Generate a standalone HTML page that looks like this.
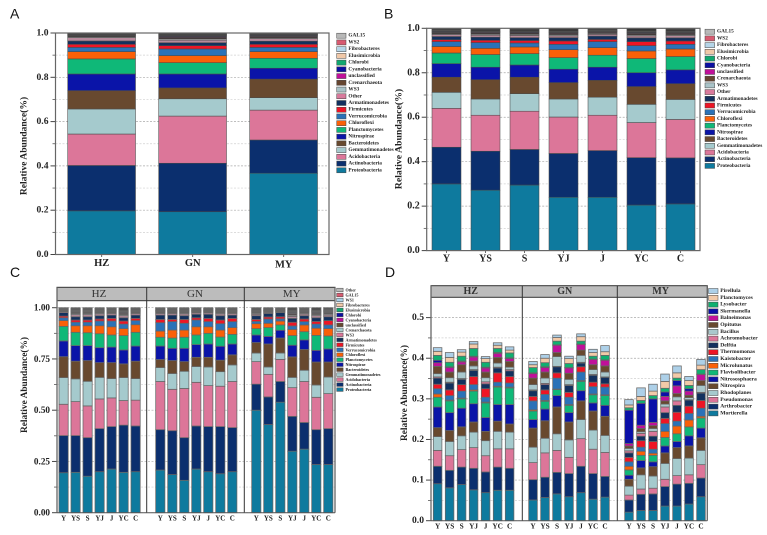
<!DOCTYPE html>
<html lang="en">
<head>
<meta charset="utf-8">
<title>Relative abundance stacked bars</title>
<style>
html,body{margin:0;padding:0;background:#fff;width:767px;height:535px;overflow:hidden}
svg{display:block;font-family:"Liberation Serif",serif}
</style>
</head>
<body>
<svg id="figure" xmlns="http://www.w3.org/2000/svg" width="767" height="535" viewBox="0 0 767 535"></svg>
<script>
// Cumulative abundance at the top of each stacked taxon, bottom to top.
const phylaLegendAB = ["Proteobacteria","Actinobacteria","Acidobacteria","Gemmatimonadetes","Bacteroidetes","Nitrospirae","Planctomycetes","Chloroflexi","Verrucomicrobia","Firmicutes","Armatimonadetes","Other","WS3","Crenarchaeota","unclassified","Cyanobacteria","Chlorobi","Elusimicrobia","Fibrobacteres","WS2","GAL15"];
const phylaLegendC = ["Proteobacteria","Actinobacteria","Acidobacteria","Gemmatimonadetes","Bacteroidetes","Nitrospirae","Planctomycetes","Chloroflexi","Verrucomicrobia","Firmicutes","Armatimonadetes","WS3","Crenarchaeota","unclassified","Cyanobacteria","Chlorobi","Elusimicrobia","Fibrobacteres","WS1","GAL15","Other"];
const generaLegend = ["Mortierella","Arthrobacter","Pseudomonas","Rhodoplanes","Nitrospira","Nitrososphaera","Flavisolibacter","Microlunatus","Kaistobacter","Thermomonas","Delftia","Achromobacter","Bacillus","Opitutus","Balneimonas","Skermanella","Lysobacter","Planctomyces","Pirellula"];

const aCategories = ["HZ","GN","MY"];
const aHZ = [.197,.402,.544,.657,.74,.815,.883,.916,.935,.949,.964,.979,.983,.987,.989,.991,.993,.995,.997,.999,1];
const aGN = [.193,.412,.625,.703,.752,.815,.866,.898,.928,.943,.956,.968,.974,.98,.984,.987,.99,.992,.995,.998,1];
const aMY = [.367,.517,.652,.708,.792,.841,.886,.916,.935,.949,.963,.975,.979,.984,.987,.99,.992,.994,.996,.998,1];

const sampleLabels = ["Y","YS","S","YJ","J","YC","C"];
const bY  = [.30,.465,.64,.712,.78,.841,.889,.918,.94,.949,.963,.972,.976,.98,.983,.986,.988,.991,.994,.997,1];
const bYS = [.272,.447,.609,.682,.769,.825,.882,.91,.936,.946,.96,.969,.974,.979,.982,.985,.987,.99,.994,.997,1];
const bS  = [.295,.455,.627,.706,.78,.835,.886,.916,.934,.945,.958,.968,.973,.978,.981,.984,.987,.99,.994,.997,1];
const bYJ = [.24,.437,.601,.682,.756,.816,.868,.904,.928,.943,.958,.966,.972,.977,.98,.983,.986,.989,.993,.997,1];
const bJ  = [.24,.45,.609,.69,.766,.825,.879,.913,.94,.95,.965,.973,.977,.981,.984,.986,.988,.991,.994,.997,1];
const bYC = [.205,.418,.576,.658,.738,.80,.864,.898,.922,.94,.957,.966,.971,.976,.979,.982,.985,.988,.992,.996,1];
const bC  = [.21,.417,.59,.68,.751,.813,.873,.907,.928,.943,.957,.967,.972,.977,.98,.983,.986,.989,.993,.996,1];

const cHzY  = [.195,.376,.529,.659,.761,.838,.909,.937,.951,.959,.976,.981,.984,.987,.989,.991,.993,.995,.997,.999,1];
const cHzYS = [.197,.376,.542,.653,.739,.815,.88,.912,.929,.94,.956,.966,.972,.977,.98,.983,.986,.989,.993,.997,1];
const cHzS  = [.178,.366,.521,.641,.742,.815,.878,.912,.929,.94,.956,.966,.972,.977,.98,.983,.986,.989,.993,.997,1];
const cHzYJ = [.20,.41,.555,.66,.732,.805,.873,.912,.935,.945,.961,.97,.975,.979,.982,.985,.987,.99,.994,.997,1];
const cHzJ  = [.213,.42,.56,.654,.732,.808,.867,.907,.935,.948,.964,.972,.976,.98,.983,.985,.987,.99,.994,.997,1];
const cHzYC = [.197,.427,.547,.659,.726,.794,.864,.898,.92,.935,.951,.961,.967,.972,.976,.98,.983,.986,.99,.995,1];
const cHzC  = [.20,.423,.549,.654,.739,.813,.88,.917,.937,.948,.964,.972,.976,.98,.983,.985,.987,.99,.994,.997,1];
const cGnY  = [.208,.405,.64,.708,.747,.813,.856,.886,.927,.943,.964,.972,.976,.98,.983,.985,.987,.99,.994,.997,1];
const cGnYS = [.186,.40,.602,.679,.742,.802,.852,.891,.932,.943,.964,.972,.976,.98,.983,.985,.987,.99,.994,.997,1];
const cGnS  = [.158,.366,.606,.69,.737,.802,.856,.891,.924,.943,.961,.97,.975,.979,.982,.985,.987,.99,.994,.997,1];
const cGnYJ = [.213,.423,.636,.713,.758,.82,.867,.907,.94,.951,.968,.975,.979,.982,.984,.986,.988,.991,.994,.997,1];
const cGnJ  = [.20,.42,.62,.711,.758,.823,.875,.907,.932,.948,.968,.975,.979,.982,.984,.986,.988,.991,.994,.997,1];
const cGnYC = [.19,.42,.617,.688,.744,.812,.857,.891,.922,.94,.961,.97,.975,.979,.982,.985,.987,.99,.994,.997,1];
const cGnC  = [.20,.415,.64,.721,.77,.823,.87,.903,.932,.948,.964,.972,.976,.98,.983,.985,.987,.99,.994,.997,1];
const cMyY  = [.50,.627,.737,.779,.83,.867,.898,.922,.933,.943,.961,.968,.973,.977,.98,.983,.986,.989,.993,.997,1];
const cMyYS = [.43,.565,.675,.711,.823,.86,.903,.924,.945,.955,.972,.977,.98,.983,.985,.987,.989,.992,.995,.998,1];
const cMyS  = [.539,.64,.748,.779,.852,.89,.916,.935,.946,.956,.976,.98,.983,.985,.987,.989,.991,.993,.995,.998,1];
const cMyYJ = [.30,.47,.61,.66,.76,.817,.864,.894,.911,.929,.948,.958,.964,.97,.974,.978,.982,.986,.99,.995,1];
const cMyJ  = [.31,.44,.64,.695,.796,.843,.883,.916,.932,.945,.961,.969,.974,.978,.981,.984,.987,.99,.994,.997,1];
const cMyYC = [.235,.405,.563,.623,.735,.792,.865,.90,.92,.933,.951,.961,.967,.972,.976,.98,.983,.986,.99,.995,1];
const cMyC  = [.235,.41,.581,.662,.735,.799,.862,.898,.916,.937,.956,.964,.97,.975,.979,.982,.985,.988,.992,.996,1];

const dHzY  = [.091,.134,.173,.207,.229,.28,.304,.312,.325,.336,.351,.354,.362,.38,.389,.395,.407,.417,.426];
const dHzYS = [.081,.124,.16,.195,.222,.266,.295,.297,.308,.322,.339,.341,.352,.366,.377,.379,.39,.402,.414];
const dHzS  = [.089,.132,.175,.209,.231,.277,.30,.302,.319,.335,.348,.35,.366,.384,.391,.393,.405,.415,.421];
const dHzYJ = [.076,.129,.18,.218,.243,.288,.319,.322,.335,.355,.37,.372,.381,.393,.403,.405,.424,.435,.441];
const dHzJ  = [.069,.12,.16,.197,.22,.254,.29,.292,.304,.325,.337,.342,.352,.366,.376,.378,.39,.399,.404];
const dHzYC = [.075,.132,.177,.22,.245,.286,.329,.331,.341,.364,.376,.378,.388,.402,.412,.414,.424,.432,.438];
const dHzC  = [.075,.129,.177,.218,.238,.286,.327,.329,.339,.355,.369,.372,.378,.392,.399,.401,.413,.42,.428];
const dGnY  = [.051,.101,.143,.181,.228,.249,.27,.273,.295,.306,.32,.322,.335,.351,.362,.364,.377,.384,.392];
const dGnYS = [.057,.107,.167,.203,.246,.275,.294,.296,.311,.322,.335,.338,.351,.366,.377,.379,.389,.40,.409];
const dGnS  = [.066,.119,.173,.214,.28,.308,.323,.324,.351,.364,.379,.38,.404,.414,.432,.433,.442,.451,.457];
const dGnYJ = [.059,.116,.156,.199,.243,.266,.284,.286,.304,.316,.333,.335,.348,.363,.376,.377,.387,.399,.405];
const dGnJ  = [.069,.134,.202,.249,.295,.32,.343,.345,.366,.379,.388,.39,.407,.42,.434,.435,.442,.453,.46];
const dGnYC = [.053,.116,.176,.223,.27,.29,.31,.312,.33,.341,.358,.36,.372,.384,.397,.398,.405,.414,.422];
const dGnC  = [.058,.109,.168,.21,.257,.284,.308,.31,.329,.337,.353,.354,.366,.381,.395,.396,.407,.416,.431];
const dMyY  = [.021,.051,.063,.085,.102,.112,.125,.134,.145,.156,.167,.172,.178,.184,.19,.272,.278,.285,.298];
const dMyYS = [.025,.065,.078,.113,.13,.148,.161,.171,.181,.197,.208,.215,.219,.227,.235,.289,.296,.306,.327];
const dMyS  = [.025,.066,.08,.11,.133,.145,.161,.166,.176,.195,.208,.22,.227,.234,.242,.30,.308,.319,.336];
const dMyYJ = [.036,.084,.102,.141,.167,.184,.205,.22,.239,.252,.266,.28,.287,.295,.306,.317,.326,.343,.361];
const dMyJ  = [.036,.09,.111,.153,.18,.195,.214,.233,.245,.267,.284,.295,.305,.313,.332,.345,.351,.364,.381];
const dMyYC = [.041,.092,.113,.154,.184,.209,.231,.248,.264,.282,.297,.298,.303,.309,.319,.325,.333,.345,.355];
const dMyC  = [.059,.105,.138,.173,.204,.228,.253,.257,.277,.296,.314,.316,.333,.345,.36,.361,.372,.383,.397];

const phylumColors = ["#0e7a9e","#0b2f6e","#dc7699","#a5cacd","#68492f","#0a14a8","#0fb878","#fa6008","#2a72b8","#ee1525","#12305e","#d87a9c","#a9c3c8","#654530","#c0109a","#0b0fa0","#10a870","#f0c8a8","#b5d5e8","#d85a70","#b8b8b8"];
const phylumBarColors = ["#0e7a9e","#0b2f6e","#dc7699","#a5cacd","#68492f","#0a14a8","#0fb878","#fa6008","#2a72b8","#ee1525","#12305e","#b88a9c","#a0a0a0","#3a2a2a","#6a2a5a","#101050","#222222","#999999","#0a0a0a","#0a0a0a","#1a1a1a"];
const legendCColors = ["#0e7a9e","#0b2f6e","#dc7699","#a5cacd","#68492f","#0a14a8","#0fb878","#fa6008","#2a72b8","#ee1525","#12305e","#dc7699","#a5cacd","#68492f","#c0109a","#0b0fa0","#10a870","#f0c8a8","#a8cfe6","#d85a70","#b8b8b8"];
const genusColors = ["#0e7a9e","#0b2f6e","#dc7699","#a5cacd","#68492f","#0a14a8","#0fb878","#fa6008","#2a72b8","#ee1525","#12305e","#dc7699","#a9c8cc","#68492f","#c0109a","#0a0fa8","#0fb070","#f2caa8","#add0e8"];

const svg = document.getElementById('figure');
const NS = 'http://www.w3.org/2000/svg';

function make(tag, attrs, parent, text) {
  const el = document.createElementNS(NS, tag);
  for (const k in attrs) el.setAttribute(k, attrs[k]);
  if (text !== undefined) el.textContent = text;
  (parent || svg).appendChild(el);
  return el;
}
function line(x1, y1, x2, y2, stroke, w, dash, parent) {
  const attrs = {x1, y1, x2, y2, stroke, 'stroke-width': w};
  if (dash) attrs['stroke-dasharray'] = dash;
  return make('line', attrs, parent);
}
function group(name) {
  const g = make('g', {});
  
  
  return g;
}
function label(parent, name, x, y, str, size, opts) {
  const o = opts || {};
  const t = make('text', {x, y, 'font-size': size, 'font-weight': o.weight || 'bold', fill: o.fill || '#222', 'text-anchor': o.anchor || 'middle', 'dominant-baseline': 'central'}, parent, str);
  if (o.rotate) t.setAttribute('transform', 'rotate(-90 ' + x + ' ' + y + ')');
  if (o.family) t.setAttribute('font-family', o.family);
  
  
  return t;
}

function drawStack(parent, name, cum, colors, x, w, yOf, stroke, strokeW) {
  const g = make('g', {}, parent);
  
  
  let prev = 0;
  cum.forEach(function (v, i) {
    const top = yOf(v), base = yOf(prev);
    const r = make('rect', {x, y: Math.min(top, base), width: w, height: Math.abs(base - top), fill: colors[i], stroke, 'stroke-width': strokeW}, g);
    
    
    prev = v;
  });
}

function drawLegend(name, labels, colors, cfg) {
  const g = group(name);
  labels.slice().reverse().forEach(function (txt, i) {
    const col = colors[labels.length - 1 - i];
    const y = cfg.first + i * cfg.step;
    const s = make('rect', {x: cfg.x, y: y - cfg.h / 2, width: cfg.w, height: cfg.h, fill: col, stroke: '#444', 'stroke-width': 0.5}, g);
    
    
    label(g, 'legend-entry', cfg.x + cfg.w + cfg.gap, y, txt, cfg.font, {anchor: 'start', fill: '#222'});
  });
}

function drawAxisLeft(g, cfg) {
  cfg.gridMinor.forEach(function (v) {
    line(cfg.x0, cfg.y(v), cfg.x1, cfg.y(v), '#d0d0d0', 0.7, '2 1.5', g);
    line(cfg.x0 - 3, cfg.y(v), cfg.x0, cfg.y(v), '#555', 0.8, null, g);
  });
  cfg.ticks.forEach(function (v, i) {
    line(cfg.x0, cfg.y(v), cfg.x1, cfg.y(v), '#a8a8a8', 0.7, '2 1.5', g);
    line(cfg.x0 - 5, cfg.y(v), cfg.x0, cfg.y(v), '#444', 1, null, g);
    label(g, 'y-tick-label', cfg.x0 - 7, cfg.y(v), cfg.tickLabels[i], cfg.tickFont, {anchor: 'end'});
  });
}

/* Panel A */
const aTicks = [0, .2, .4, .6, .8, 1];
const aTickLabels = ["0.0","0.2","0.4","0.6","0.8","1.0"];
const abMinorTicks = [.1,.3,.5,.7,.9];
(function () {
  const g = group('panel-a');
  const y = function (v) { return 254.5 - 221.5 * v; };
  label(g, 'panel-a-letter', 10, 13.5, 'A', 14, {anchor: 'start', weight: 'normal', family: '"Liberation Sans",sans-serif', fill: '#111'});
  label(g, 'y-axis-title', 24, 146, 'Relative Abundance(%)', 9.6, {rotate: true});
  drawAxisLeft(g, {x0: 55.5, x1: 329, y, ticks: aTicks, tickLabels: aTickLabels, gridMinor: abMinorTicks, tickFont: 9.6});
  [aHZ, aGN, aMY].forEach(function (cum, i) {
    const x = 67.7 + i * 91;
    drawStack(g, 'bar-' + aCategories[i].toLowerCase(), cum, phylumBarColors, x, 67.8, y, '#4a4a4a', 0.55);
    line(x + 34, 254.5, x + 34, 257, '#444', 0.8, null, g);
    label(g, 'x-tick-label', x + 34, i === 2 ? 265 : 263.5, aCategories[i], 10.5);
  });
  make('rect', {x: 55.5, y: 33, width: 273.5, height: 221.5, fill: 'none', stroke: '#666', 'stroke-width': 1.2}, g);
})();
drawLegend('legend-a', phylaLegendAB, phylumColors, {x: 336.7, w: 9.3, h: 5, first: 35.7, step: 6.73, gap: 2.4, font: 5.3});

/* Panel B */
(function () {
  const g = group('panel-b');
  const y = function (v) { return 250.6 - 222.3 * v; };
  label(g, 'panel-b-letter', 384, 13.5, 'B', 14, {anchor: 'start', weight: 'normal', family: '"Liberation Sans",sans-serif', fill: '#111'});
  label(g, 'y-axis-title', 399, 139, 'Relative Abundance(%)', 9.8, {rotate: true});
  drawAxisLeft(g, {x0: 426.7, x1: 700, y, ticks: aTicks, tickLabels: aTickLabels, gridMinor: abMinorTicks, tickFont: 10});
  [bY, bYS, bS, bYJ, bJ, bYC, bC].forEach(function (cum, i) {
    const x = 432 + i * 39;
    drawStack(g, 'bar-' + sampleLabels[i].toLowerCase(), cum, phylumBarColors, x, 29, y, '#4a4a4a', 0.55);
    line(x + 14.5, 250.6, x + 14.5, 253, '#444', 0.8, null, g);
    label(g, 'x-tick-label', x + 14.5, 259, sampleLabels[i], 10);
  });
  make('rect', {x: 426.7, y: 28.3, width: 273.3, height: 222.3, fill: 'none', stroke: '#666', 'stroke-width': 1.2}, g);
})();
drawLegend('legend-b', phylaLegendAB, phylumColors, {x: 705, w: 9.6, h: 5, first: 31.7, step: 6.71, gap: 2.4, font: 5.3});

/* Panel C and D share faceted layout */
function drawFacet(cfg) {
  const g = group(cfg.name);
  label(g, cfg.name + '-letter', cfg.letterX, 272, cfg.letter, 14, {anchor: 'start', weight: 'normal', family: '"Liberation Sans",sans-serif', fill: '#111'});
  label(g, 'y-axis-title', cfg.titleX, cfg.titleY, 'Relative Abundance(%)', 9.4, {rotate: true});
  drawAxisLeft(g, {x0: cfg.x0, x1: cfg.x1, y: cfg.y, ticks: cfg.ticks, tickLabels: cfg.tickLabels, gridMinor: cfg.minor, tickFont: cfg.tickFont});
  cfg.facets.forEach(function (f, fi) {
    f.stacks.forEach(function (cum, i) {
      const x = cfg.starts[fi] + i * cfg.step;
      drawStack(g, 'bar-' + cfg.facetNames[fi].toLowerCase() + '-' + sampleLabels[i].toLowerCase(), cum, cfg.colors, x, cfg.barW, cfg.y, '#666', 0.75);
      label(g, 'x-tick-label', x + cfg.barW / 2, cfg.labelY, sampleLabels[i], cfg.labelFont);
    });
  });
  const strip = make('rect', {x: cfg.x0, y: cfg.stripTop, width: cfg.x1 - cfg.x0, height: cfg.stripBottom - cfg.stripTop, fill: '#bcbcbc', stroke: '#333', 'stroke-width': 1}, g);
  
  
  cfg.dividers.forEach(function (x) {
    line(x, cfg.stripTop, x, cfg.y0, '#333', 1, null, g);
  });
  line(cfg.x0, cfg.stripTop, cfg.x0, cfg.y0, '#666', 1.3, null, g);
  line(cfg.x1, cfg.stripTop, cfg.x1, cfg.y0, '#666', 1.3, null, g);
  line(cfg.x0, cfg.y0, cfg.x1, cfg.y0, '#555', 1, null, g);
  cfg.facetNames.forEach(function (n, i) {
    label(g, 'facet-label-' + n.toLowerCase(), cfg.stripX[i], (cfg.stripTop + cfg.stripBottom) / 2, n, cfg.stripFont, {weight: cfg.stripWeight, fill: '#333'});
  });
}

const facetNames = ["HZ","GN","MY"];
const cTicks = [0,.25,.5,.75,1];
const cTickLabels = ["0.00","0.25","0.50","0.75","1.00"];
const cMinorTicks = [.125,.375,.625,.875];
const dTicks = [0,.1,.2,.3,.4,.5];
const dTickLabels = ["0.0","0.1","0.2","0.3","0.4","0.5"];
const dMinorTicks = [.05,.15,.25,.35,.45];

drawFacet({
  name: 'panel-c', letter: 'C', letterX: 10, titleX: 25, titleY: 385,
  x0: 57, x1: 335, y0: 512.7, y: function (v) { return 512.7 - 205 * v; },
  ticks: cTicks, tickLabels: cTickLabels, minor: cMinorTicks, tickFont: 9.2,
  facetNames, stripTop: 287.3, stripBottom: 300.7, stripX: [99, 195, 291.7], stripFont: 11, stripWeight: 'normal',
  dividers: [146.7, 244.3], starts: [59, 155.7, 251.7], step: 12, barW: 9.2, colors: phylumBarColors,
  labelY: 518.5, labelFont: 7,
  facets: [
    {stacks: [cHzY, cHzYS, cHzS, cHzYJ, cHzJ, cHzYC, cHzC]},
    {stacks: [cGnY, cGnYS, cGnS, cGnYJ, cGnJ, cGnYC, cGnC]},
    {stacks: [cMyY, cMyYS, cMyS, cMyYJ, cMyJ, cMyYC, cMyC]}
  ]
});
drawLegend('legend-c', phylaLegendC, legendCColors, {x: 336.7, w: 6.4, h: 3.6, first: 290, step: 4.98, gap: 2.4, font: 4.1});

drawFacet({
  name: 'panel-d', letter: 'D', letterX: 385, titleX: 405, titleY: 393,
  x0: 431, x1: 707.3, y0: 520.7, y: function (v) { return 520.7 - 406.2 * v; },
  ticks: dTicks, tickLabels: dTickLabels, minor: dMinorTicks, tickFont: 9.6,
  facetNames, stripTop: 285.7, stripBottom: 297.3, stripX: [470.7, 564.7, 660.7], stripFont: 10, stripWeight: 'bold',
  dividers: [522.3, 617.3], starts: [433.3, 528.7, 624.7], step: 12, barW: 8.6, colors: genusColors,
  labelY: 526, labelFont: 7.3,
  facets: [
    {stacks: [dHzY, dHzYS, dHzS, dHzYJ, dHzJ, dHzYC, dHzC]},
    {stacks: [dGnY, dGnYS, dGnS, dGnYJ, dGnJ, dGnYC, dGnC]},
    {stacks: [dMyY, dMyYS, dMyS, dMyYJ, dMyJ, dMyYC, dMyC]}
  ]
});
drawLegend('legend-d', generaLegend, genusColors, {x: 708.5, w: 9.5, h: 5, first: 291, step: 6.8, gap: 2.2, font: 5.6});
</script>
</body>
</html>
